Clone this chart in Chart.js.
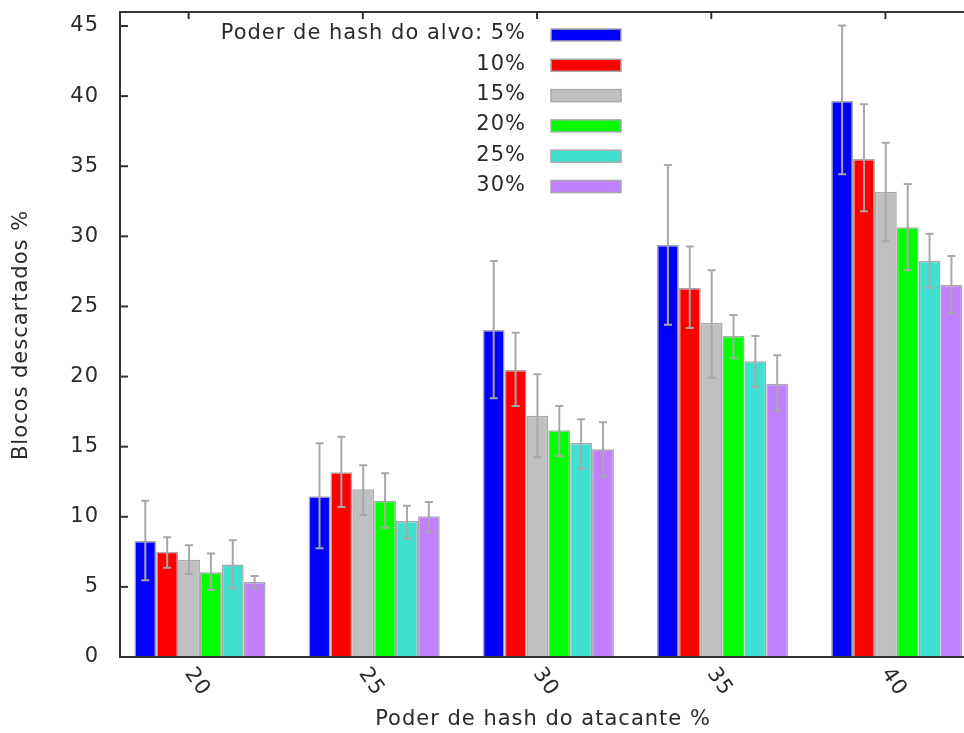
<!doctype html>
<html lang="pt">
<head>
<meta charset="utf-8">
<title>Blocos descartados</title>
<script src="https://cdn.jsdelivr.net/npm/chart.js@4.4.1/dist/chart.umd.min.js"></script>
<style>
  body { margin: 0; background: #fff; }
  canvas { display: block; }
</style>
</head>
<body>
<canvas id="myChart" width="964" height="733"></canvas>
<script>
// attacker hash power (x categories)
var categories = ['20', '25', '30', '35', '40'];
var seriesNames = ['Poder de hash do alvo: 5%', '10%', '15%', '20%', '25%', '30%'];
var colors = ['#0000ff', '#ff0000', '#c0c0c0', '#00ff00', '#40e0d0', '#c080ff'];
var yTicks = [0, 5, 10, 15, 20, 25, 30, 35, 40, 45];

// mean values per target hash power
var s5  = [8.27, 11.46, 23.32, 29.39, 39.66];
var s10 = [7.51, 13.17, 20.47, 26.32, 35.52];
var s15 = [6.94, 11.96, 17.21, 23.82, 33.17];
var s20 = [6.04, 11.15, 16.17, 22.90, 30.65];
var s25 = [6.59, 9.70, 15.26, 21.09, 28.24];
var s30 = [5.35, 10.03, 14.81, 19.49, 26.53];

// error bar ends
var hi5  = [11.15, 15.24, 28.24, 35.09, 45.03];
var lo5  = [5.47, 7.75, 18.45, 23.70, 34.43];
var hi10 = [8.54, 15.71, 23.13, 29.27, 39.42];
var lo10 = [6.37, 10.70, 17.90, 23.47, 31.79];
var hi15 = [7.97, 13.67, 20.16, 27.58, 36.68];
var lo15 = [5.92, 10.13, 14.24, 19.92, 29.65];
var hi20 = [7.39, 13.10, 17.90, 24.39, 33.74];
var lo20 = [4.78, 9.22, 14.34, 21.30, 27.58];
var hi25 = [8.32, 10.79, 16.95, 22.90, 30.19];
var lo25 = [4.90, 8.44, 13.43, 19.26, 26.34];
var hi30 = [5.78, 11.06, 16.74, 21.52, 28.60];
var lo30 = [4.90, 8.89, 12.88, 17.57, 24.51];

var values = [s5, s10, s15, s20, s25, s30];
var highs = [hi5, hi10, hi15, hi20, hi25, hi30];
var lows = [lo5, lo10, lo15, lo20, lo25, lo30];

var FONT = '21px "DejaVu Sans", sans-serif';
var TXT = '#2a2a2a';
var FRAME = '#333333';

var datasets = values.map(function (arr, k) {
  return {
    label: seriesNames[k],
    data: arr.map(function (v, i) { return { x: i, y: v }; }),
    backgroundColor: colors[k],
    borderColor: '#a8a8a8',
    borderWidth: 1.5
  };
});

function setText(ctx) {
  ctx.fillStyle = TXT;
  ctx.font = FONT;
  ctx.letterSpacing = '1px';
}

var decorations = {
  id: 'decorations',
  afterDatasetsDraw: function (chart) {
    var ctx = chart.ctx;
    var ys = chart.scales.y;
    // error bars
    ctx.save();
    ctx.strokeStyle = '#a8a8a8';
    ctx.lineWidth = 2;
    chart.data.datasets.forEach(function (ds, k) {
      var meta = chart.getDatasetMeta(k);
      meta.data.forEach(function (bar, i) {
        var top = ys.getPixelForValue(highs[k][i]);
        var bot = ys.getPixelForValue(lows[k][i]);
        ctx.beginPath();
        ctx.moveTo(bar.x, top); ctx.lineTo(bar.x, bot);
        ctx.moveTo(bar.x - 4, top); ctx.lineTo(bar.x + 4, top);
        ctx.moveTo(bar.x - 4, bot); ctx.lineTo(bar.x + 4, bot);
        ctx.stroke();
      });
    });
    ctx.restore();
  },
  afterDraw: function (chart) {
    var ctx = chart.ctx;
    var a = chart.chartArea;
    var xs = chart.scales.x, ys = chart.scales.y;
    ctx.save();
    // frame
    ctx.strokeStyle = FRAME;
    ctx.lineWidth = 2;
    ctx.beginPath();
    ctx.moveTo(a.right + 2, a.top); ctx.lineTo(a.left, a.top);
    ctx.lineTo(a.left, a.bottom); ctx.lineTo(a.right + 2, a.bottom);
    ctx.stroke();
    // y ticks and labels
    setText(ctx);
    ctx.textAlign = 'right';
    ctx.textBaseline = 'middle';
    yTicks.forEach(function (v) {
      var y = ys.getPixelForValue(v);
      ctx.beginPath();
      ctx.moveTo(a.left, y); ctx.lineTo(a.left + 8, y);
      ctx.stroke();
      ctx.fillText(String(v), a.left - 21, y);
    });
    // x ticks (top, mirrored) and rotated labels
    categories.forEach(function (c, i) {
      var xt = xs.getPixelForValue(i - 0.065);
      ctx.beginPath();
      ctx.moveTo(xt, a.top); ctx.lineTo(xt, a.top + 7);
      ctx.stroke();
      var xl = xs.getPixelForValue(i) - 3;
      ctx.save();
      ctx.translate(xl, a.bottom + 25);
      ctx.rotate(55 * Math.PI / 180);
      ctx.textAlign = 'center';
      ctx.textBaseline = 'middle';
      ctx.fillText(c, 0, 0);
      ctx.restore();
    });
    // axis titles
    ctx.textAlign = 'center';
    ctx.textBaseline = 'middle';
    ctx.fillText('Poder de hash do atacante %', 543, 720);
    ctx.save();
    ctx.translate(22, 335);
    ctx.rotate(-Math.PI / 2);
    ctx.fillText('Blocos descartados %', 0, 0);
    ctx.restore();
    // legend
    ctx.textAlign = 'right';
    seriesNames.forEach(function (name, k) {
      var y = 35 + k * 30.3;
      ctx.fillStyle = TXT;
      ctx.fillText(name, 526, y - 1);
      ctx.fillStyle = colors[k];
      ctx.fillRect(551, y - 6, 70, 12);
      ctx.strokeStyle = '#a8a8a8';
      ctx.lineWidth = 1.5;
      ctx.strokeRect(551, y - 6, 70, 12);
    });
    ctx.restore();
  }
};

new Chart(document.getElementById('myChart').getContext('2d'), {
  type: 'bar',
  data: { datasets: datasets },
  options: {
    responsive: false,
    animation: false,
    layout: { padding: { left: 120, top: 12, right: 0, bottom: 76 } },
    datasets: { bar: { categoryPercentage: 0.753, barPercentage: 1.0 } },
    plugins: { legend: { display: false }, tooltip: { enabled: false } },
    scales: {
      x: {
        type: 'linear', min: -0.459, max: 4.386, offset: false, display: false,
        afterBuildTicks: function (scale) {
          scale.ticks = categories.map(function (c, i) { return { value: i }; });
        }
      },
      y: {
        min: 0, max: 46, display: false
      }
    }
  },
  plugins: [decorations]
});
</script>
</body>
</html>
